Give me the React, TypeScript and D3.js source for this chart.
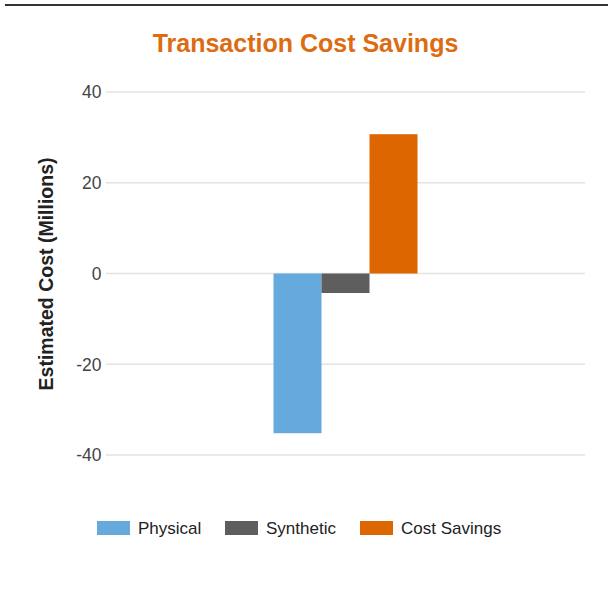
import React, { useEffect, useRef } from "react";
import * as d3 from "d3";

const categories = ["Transaction"];
const seriesNames = ["Physical", "Synthetic", "Cost Savings"];
const seriesColors = ["#65a9dd", "#5e5e5e", "#dd6600"];
const physical = [-35.2];
const synthetic = [-4.3];
const costSavings = [30.7];
const yTicks = [-40, -20, 0, 20, 40];

const W = 608;
const H = 601;
const font = "Arial, 'Liberation Sans', sans-serif";

const App = () => {
  const ref = useRef<SVGSVGElement>(null);

  useEffect(() => {
    document.body.style.margin = "0";
    const svg = d3.select(ref.current);
    svg.selectAll("*").remove();

    const left = 106;
    const right = 585;

    // top border line
    svg
      .append("line")
      .attr("x1", 5)
      .attr("x2", W)
      .attr("y1", 5)
      .attr("y2", 5)
      .attr("stroke", "#333")
      .attr("stroke-width", 2);

    const y = d3.scaleLinear().domain([-40, 40]).range([455, 92]);

    const x0 = d3
      .scaleBand()
      .domain(categories)
      .range([left, right])
      .paddingInner(0)
      .paddingOuter(1.163);

    const x1 = d3
      .scaleBand()
      .domain(seriesNames)
      .range([0, x0.bandwidth()])
      .padding(0);

    // gridlines
    svg
      .append("g")
      .selectAll("line")
      .data(yTicks)
      .enter()
      .append("line")
      .attr("x1", left)
      .attr("x2", right)
      .attr("y1", (d) => y(d))
      .attr("y2", (d) => y(d))
      .attr("stroke", "#e3e3e3")
      .attr("stroke-width", 1.5);

    // tick labels (plain hyphen for negatives)
    svg
      .append("g")
      .selectAll("text")
      .data(yTicks)
      .enter()
      .append("text")
      .attr("x", 101.5)
      .attr("y", (d) => y(d))
      .attr("dy", "0.36em")
      .attr("text-anchor", "end")
      .style("font-family", font)
      .style("font-size", "17.5px")
      .style("fill", "#444")
      .text((d) => String(d));

    // bars
    const series = [physical, synthetic, costSavings];
    const g = svg.append("g");
    categories.forEach((c, ci) => {
      series.forEach((vals, si) => {
        const v = vals[ci];
        g.append("rect")
          .attr("x", (x0(c) as number) + (x1(seriesNames[si]) as number))
          .attr("width", x1.bandwidth())
          .attr("y", y(Math.max(0, v)))
          .attr("height", Math.abs(y(v) - y(0)))
          .attr("fill", seriesColors[si]);
      });
    });

    // title
    svg
      .append("text")
      .attr("x", 305.5)
      .attr("y", 52)
      .attr("text-anchor", "middle")
      .style("font-family", font)
      .style("font-size", "25px")
      .style("font-weight", "bold")
      .style("fill", "#dd6b12")
      .text("Transaction Cost Savings");

    // y axis title
    svg
      .append("text")
      .attr("transform", `translate(53, 274) rotate(-90)`)
      .attr("text-anchor", "middle")
      .style("font-family", font)
      .style("font-size", "19.5px")
      .style("font-weight", "bold")
      .style("fill", "#222")
      .text("Estimated Cost (Millions)");

    // legend
    const legendX = [97, 225, 360];
    const legend = svg
      .append("g")
      .selectAll("g")
      .data(seriesNames)
      .enter()
      .append("g")
      .attr("transform", (d, i) => `translate(${legendX[i]}, 521)`);
    legend
      .append("rect")
      .attr("width", 33)
      .attr("height", 14)
      .attr("fill", (d, i) => seriesColors[i]);
    legend
      .append("text")
      .attr("x", 41)
      .attr("y", 7)
      .attr("dy", "0.36em")
      .style("font-family", font)
      .style("font-size", "17px")
      .style("fill", "#222")
      .text((d) => d);
  }, []);

  return <svg ref={ref} width={W} height={H} style={{ display: "block", background: "#fff" }} />;
};

export default App;
